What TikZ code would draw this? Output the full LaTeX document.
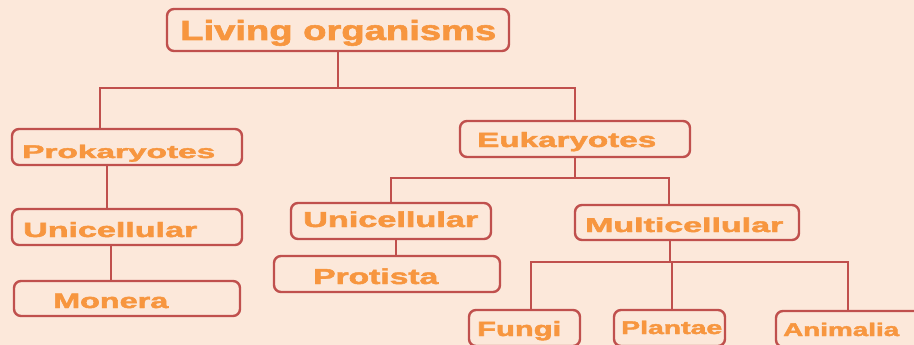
\documentclass[tikz,border=0pt]{standalone}
\usepackage{fontspec}
\setmainfont{Liberation Sans}[BoldFeatures={FakeBold=2}]
\usepackage{graphicx}
\definecolor{bgc}{HTML}{FCE8DA}
\definecolor{linec}{HTML}{C0504D}
\definecolor{txtc}{HTML}{F7963F}
\newcommand{\lbl}[3]{\resizebox{#1pt}{#2pt}{\bfseries #3}}
\tikzset{
  box/.style={draw=linec, line width=2.4pt, rounded corners=7pt, inner sep=0pt, fill=bgc},
  lbltext/.style={anchor=base west, inner sep=0pt, text=txtc},
  conn/.style={draw=linec, line width=2.6pt}
}
\begin{document}
\begin{tikzpicture}[x=1pt,y=-1pt]
\useasboundingbox (0,0) rectangle (914,345);
\clip (0,0) rectangle (914,345);
\fill[bgc] (-5,-5) rectangle (920,350);
% junction coordinates
\coordinate (j0) at (338,88);
\coordinate (j1) at (100,88);
\coordinate (j2) at (575,88);
\coordinate (j3) at (575,178);
\coordinate (j4) at (391,178);
\coordinate (j5) at (669,178);
\coordinate (j6) at (670,262);
\coordinate (j7) at (531,262);
\coordinate (j8) at (848,262);
% connectors (drawn first, boxes on top)
\draw[conn] (338,51) -- (j0);
\draw[conn] (j1 |- 0,129) -- (j1) -- (j2) -- (j2 |- 0,121);
\draw[conn] (107,165) -- (107,209);
\draw[conn] (111,245) -- (111,281);
\draw[conn] (575,157) -- (j3);
\draw[conn] (j4 |- 0,203) -- (j4) -- (j5) -- (j5 |- 0,205);
\draw[conn] (396,239) -- (396,256);
\draw[conn] (670,240) -- (j6);
\draw[conn] (j7 |- 0,310) -- (j7) -- (j8) -- (j8 |- 0,311);
\draw[conn] (672,262) -- (672,310);
% boxes
\node[box, minimum width=342pt, minimum height=42pt] (living) at (338,30) {};
\node[box, minimum width=230pt, minimum height=36pt] (pro) at (127,147) {};
\node[box, minimum width=230pt, minimum height=36pt] (unil) at (127,227) {};
\node[box, minimum width=226pt, minimum height=35pt] (mon) at (127,298.5) {};
\node[box, minimum width=230pt, minimum height=36pt] (euk) at (575,139) {};
\node[box, minimum width=200pt, minimum height=36pt] (unim) at (391,221) {};
\node[box, minimum width=224pt, minimum height=35pt] (mul) at (687,222.5) {};
\node[box, minimum width=226pt, minimum height=36pt] (pst) at (387,274) {};
\node[box, minimum width=111pt, minimum height=36pt] (fun) at (524.5,328) {};
\node[box, minimum width=111pt, minimum height=36pt] (pla) at (669.5,328) {};
\node[box, minimum width=160pt, minimum height=36pt] (ani) at (856,329) {};
% texts
\node[lbltext] (tliving) at (180,40) {\lbl{316}{20}{Living organisms}};
\node[lbltext] (tpro) at (22,158) {\lbl{193}{13.3}{Prokaryotes}};
\node[lbltext] (tunil) at (23,237) {\lbl{174}{15}{Unicellular}};
\node[lbltext] (tmon) at (53,308) {\lbl{115}{14.3}{Monera}};
\node[lbltext] (teuk) at (477,147) {\lbl{179}{15}{Eukaryotes}};
\node[lbltext] (tunim) at (303,227) {\lbl{175}{15.7}{Unicellular}};
\node[lbltext] (tmul) at (585,232) {\lbl{198}{14.5}{Multicellular}};
\node[lbltext] (tpst) at (313,284) {\lbl{125}{15.7}{Protista}};
\node[lbltext] (tfun) at (477,336) {\lbl{84}{15}{Fungi}};
\node[lbltext] (tpla) at (621,334) {\lbl{101}{13.3}{Plantae}};
\node[lbltext] (tani) at (783,336) {\lbl{116}{13.3}{Animalia}};
\end{tikzpicture}
\end{document}
